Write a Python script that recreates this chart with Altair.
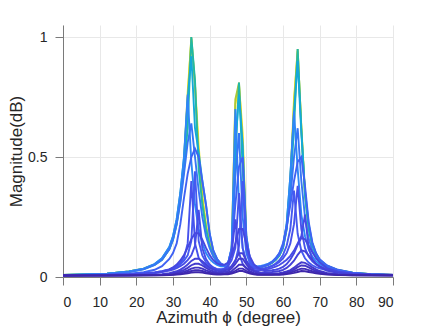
import altair as alt
import pandas as pd

# azimuth grid (degree)
X = [0, 6, 12, 18, 22, 25, 27, 29, 30, 31, 32, 33, 34, 35, 36, 37, 38, 39, 40, 41, 42, 43,
     44, 45, 46, 47, 48, 49, 50, 51, 52, 53, 54,
     55, 56, 57, 58, 59, 60, 61, 62, 63, 64, 65, 66, 67, 68, 69, 70, 72, 75, 79, 84, 90]

yellow = [0.009, 0.011, 0.014, 0.023, 0.035, 0.053, 0.075, 0.12, 0.165, 0.23, 0.34, 0.48, 0.77, 0.99, 0.80, 0.55, 0.34, 0.22, 0.14, 0.092, 0.066, 0.052,
          0.047, 0.052, 0.105, 0.72, 0.80, 0.6, 0.16, 0.068, 0.048, 0.042, 0.042,
          0.046, 0.052, 0.06, 0.073, 0.092, 0.125, 0.21, 0.4, 0.74, 0.94, 0.63, 0.35, 0.21, 0.135, 0.095, 0.07, 0.046, 0.029, 0.018, 0.012, 0.009]
green = [0.009, 0.011, 0.014, 0.023, 0.034, 0.052, 0.074, 0.118, 0.16, 0.225, 0.33, 0.47, 0.74, 1.0, 0.80, 0.5, 0.32, 0.21, 0.135, 0.09, 0.065, 0.051,
         0.046, 0.051, 0.1, 0.74, 0.81, 0.55, 0.15, 0.065, 0.047, 0.041, 0.042,
         0.046, 0.052, 0.06, 0.072, 0.09, 0.122, 0.205, 0.39, 0.72, 0.95, 0.62, 0.345, 0.205, 0.133, 0.094, 0.07, 0.046, 0.028, 0.017, 0.012, 0.009]
teal = [0.009, 0.011, 0.014, 0.022, 0.033, 0.05, 0.072, 0.115, 0.155, 0.22, 0.32, 0.45, 0.62, 1.0, 0.82, 0.45, 0.3, 0.2, 0.13, 0.088, 0.064, 0.05,
        0.045, 0.05, 0.1, 0.5, 0.81, 0.45, 0.13, 0.062, 0.045, 0.04, 0.041,
        0.045, 0.051, 0.059, 0.071, 0.089, 0.12, 0.2, 0.37, 0.62, 0.95, 0.62, 0.34, 0.2, 0.13, 0.092, 0.069, 0.045, 0.028, 0.017, 0.012, 0.009]
cyan = [0.009, 0.011, 0.014, 0.023, 0.035, 0.054, 0.078, 0.125, 0.17, 0.24, 0.35, 0.5, 0.74, 0.92, 0.62, 0.52, 0.40, 0.3, 0.18, 0.11, 0.075, 0.056,
        0.048, 0.055, 0.12, 0.55, 0.76, 0.55, 0.17, 0.07, 0.048, 0.043, 0.043,
        0.047, 0.053, 0.062, 0.076, 0.096, 0.13, 0.22, 0.42, 0.68, 0.9, 0.6, 0.36, 0.22, 0.14, 0.098, 0.072, 0.047, 0.029, 0.018, 0.012, 0.009]
blue76 = [0.009, 0.011, 0.014, 0.023, 0.035, 0.054, 0.078, 0.125, 0.17, 0.24, 0.35, 0.5, 0.76, 0.48, 0.3, 0.2, 0.14, 0.1, 0.075, 0.06, 0.05, 0.045,
          0.044, 0.055, 0.12, 0.70, 0.3, 0.12, 0.06, 0.045, 0.042, 0.043, 0.046,
          0.05, 0.056, 0.064, 0.078, 0.098, 0.13, 0.22, 0.42, 0.69, 0.45, 0.26, 0.17, 0.115, 0.085, 0.066, 0.053, 0.037, 0.024, 0.015, 0.011, 0.008]
blue64 = [0.008, 0.01, 0.013, 0.021, 0.032, 0.05, 0.072, 0.115, 0.155, 0.22, 0.31, 0.43, 0.56, 0.64, 0.5, 0.36, 0.25, 0.17, 0.12, 0.085, 0.063, 0.05,
          0.045, 0.05, 0.1, 0.42, 0.6, 0.25, 0.1, 0.055, 0.043, 0.041, 0.043,
          0.047, 0.053, 0.061, 0.074, 0.093, 0.125, 0.2, 0.33, 0.5, 0.62, 0.4, 0.25, 0.16, 0.11, 0.08, 0.062, 0.041, 0.026, 0.016, 0.011, 0.008]
blue53 = [0.007, 0.008, 0.01, 0.014, 0.02, 0.03, 0.045, 0.075, 0.1, 0.14, 0.22, 0.33, 0.43, 0.5, 0.535, 0.5, 0.40, 0.30, 0.18, 0.11, 0.076, 0.057,
          0.049, 0.056, 0.12, 0.3, 0.46, 0.5, 0.17, 0.07, 0.048, 0.043, 0.043,
          0.047, 0.052, 0.062, 0.078, 0.1, 0.14, 0.21, 0.3, 0.4, 0.48, 0.5, 0.38, 0.23, 0.145, 0.1, 0.074, 0.048, 0.03, 0.018, 0.012, 0.009]
sharp44 = [0.007, 0.008, 0.009, 0.012, 0.015, 0.019, 0.024, 0.031, 0.036, 0.043, 0.053, 0.068, 0.09, 0.15, 0.44, 0.15, 0.09, 0.062, 0.047, 0.038, 0.033, 0.031,
           0.032, 0.036, 0.045, 0.065, 0.13, 0.40, 0.12, 0.06, 0.042, 0.036, 0.035,
           0.037, 0.041, 0.047, 0.056, 0.07, 0.092, 0.13, 0.2, 0.36, 0.18, 0.11, 0.078, 0.06, 0.049, 0.041, 0.036, 0.028, 0.02, 0.014, 0.01, 0.008]
sharp40 = [0.007, 0.008, 0.009, 0.012, 0.015, 0.019, 0.024, 0.032, 0.038, 0.047, 0.06, 0.08, 0.14, 0.40, 0.14, 0.08, 0.058, 0.045, 0.037, 0.032, 0.03, 0.031,
           0.035, 0.045, 0.07, 0.12, 0.35, 0.12, 0.065, 0.045, 0.037, 0.034, 0.034,
           0.036, 0.04, 0.045, 0.052, 0.062, 0.078, 0.1, 0.14, 0.22, 0.38, 0.2, 0.12, 0.085, 0.065, 0.052, 0.044, 0.032, 0.022, 0.015, 0.011, 0.009]
sharp28 = [0.007, 0.008, 0.009, 0.011, 0.014, 0.017, 0.021, 0.027, 0.031, 0.037, 0.045, 0.055, 0.07, 0.09, 0.13, 0.28, 0.12, 0.075, 0.052, 0.04, 0.033, 0.03,
           0.032, 0.045, 0.1, 0.24, 0.1, 0.055, 0.038, 0.031, 0.028, 0.028, 0.029,
           0.031, 0.034, 0.038, 0.043, 0.05, 0.06, 0.072, 0.088, 0.11, 0.14, 0.17, 0.26, 0.12, 0.075, 0.055, 0.044, 0.03, 0.02, 0.014, 0.01, 0.008]
dome18 = [0.007, 0.008, 0.009, 0.010, 0.013, 0.016, 0.022, 0.032, 0.040, 0.052, 0.069, 0.092, 0.122, 0.158, 0.182, 0.182, 0.156, 0.121, 0.091, 0.070, 0.057, 0.051,
          0.051, 0.060, 0.089, 0.139, 0.200, 0.200, 0.137, 0.085, 0.054, 0.040, 0.032,
          0.028, 0.027, 0.028, 0.031, 0.035, 0.042, 0.054, 0.073, 0.099, 0.134, 0.162, 0.157, 0.131, 0.103, 0.079, 0.061, 0.037, 0.022, 0.014, 0.011, 0.010]
dome08 = [0.006, 0.007, 0.007, 0.008, 0.009, 0.010, 0.012, 0.016, 0.020, 0.024, 0.031, 0.040, 0.052, 0.067, 0.076, 0.076, 0.066, 0.052, 0.040, 0.032, 0.026, 0.024,
          0.028, 0.032, 0.046, 0.070, 0.099, 0.099, 0.069, 0.044, 0.029, 0.022, 0.018,
          0.021, 0.020, 0.021, 0.023, 0.025, 0.030, 0.038, 0.051, 0.068, 0.092, 0.111, 0.107, 0.090, 0.071, 0.055, 0.043, 0.027, 0.017, 0.011, 0.009, 0.009]
dome055 = [0.006, 0.007, 0.007, 0.007, 0.008, 0.009, 0.010, 0.013, 0.016, 0.019, 0.024, 0.030, 0.038, 0.049, 0.055, 0.055, 0.048, 0.038, 0.030, 0.024, 0.020, 0.019,
           0.022, 0.025, 0.036, 0.054, 0.076, 0.076, 0.053, 0.034, 0.023, 0.018, 0.015,
           0.014, 0.013, 0.014, 0.015, 0.016, 0.019, 0.023, 0.029, 0.039, 0.051, 0.061, 0.059, 0.050, 0.040, 0.032, 0.025, 0.017, 0.012, 0.009, 0.008, 0.007]
dome04 = [0.006, 0.006, 0.007, 0.007, 0.007, 0.008, 0.009, 0.011, 0.012, 0.015, 0.018, 0.022, 0.028, 0.035, 0.039, 0.039, 0.035, 0.028, 0.022, 0.018, 0.016, 0.015,
          0.016, 0.018, 0.025, 0.037, 0.051, 0.051, 0.036, 0.024, 0.017, 0.014, 0.012,
          0.012, 0.012, 0.012, 0.013, 0.014, 0.016, 0.019, 0.024, 0.031, 0.041, 0.048, 0.047, 0.040, 0.032, 0.026, 0.021, 0.014, 0.010, 0.008, 0.007, 0.007]
dome03 = [0.006, 0.006, 0.006, 0.007, 0.007, 0.007, 0.008, 0.009, 0.010, 0.012, 0.014, 0.017, 0.021, 0.025, 0.028, 0.028, 0.025, 0.020, 0.017, 0.014, 0.012, 0.012,
          0.013, 0.014, 0.018, 0.026, 0.035, 0.035, 0.026, 0.018, 0.013, 0.011, 0.010,
          0.010, 0.010, 0.010, 0.011, 0.011, 0.013, 0.015, 0.018, 0.023, 0.030, 0.035, 0.034, 0.029, 0.024, 0.020, 0.016, 0.012, 0.009, 0.007, 0.007, 0.007]
dome02 = [0.006, 0.006, 0.006, 0.006, 0.007, 0.007, 0.007, 0.008, 0.009, 0.010, 0.011, 0.013, 0.015, 0.018, 0.020, 0.020, 0.018, 0.015, 0.013, 0.011, 0.010, 0.010,
          0.011, 0.011, 0.014, 0.019, 0.025, 0.025, 0.019, 0.014, 0.011, 0.009, 0.009,
          0.009, 0.009, 0.009, 0.009, 0.009, 0.010, 0.012, 0.014, 0.017, 0.021, 0.025, 0.024, 0.021, 0.018, 0.015, 0.013, 0.010, 0.008, 0.007, 0.007, 0.006]

# drawing order: first is at the bottom
series = [
    ("yellow", "#F5E61C", yellow),
    ("green", "#ABC739", green),
    ("teal", "#22B8A6", teal),
    ("cyan", "#14A8D9", cyan),
    ("blue76", "#2E87F7", blue76),
    ("blue64", "#3676F5", blue64),
    ("blue53", "#3F62F3", blue53),
    ("sharp44", "#4559F0", sharp44),
    ("sharp40", "#4652EC", sharp40),
    ("sharp28", "#464CE6", sharp28),
    ("dome18", "#4547E0", dome18),
    ("dome08", "#4441D8", dome08),
    ("dome055", "#433ACD", dome055),
    ("dome04", "#4133C2", dome04),
    ("dome03", "#402DB7", dome03),
    ("dome02", "#3E27AB", dome02),
]

rows = []
names = []
colors = []
for i, (nm, col, vals) in enumerate(series):
    key = f"s{i:02d}"
    names.append(key)
    colors.append(col)
    for xv, yv in zip(X, vals):
        rows.append({"series": key, "az": xv, "mag": yv})
df = pd.DataFrame(rows)

font = "Liberation Sans"

chart = alt.Chart(df).mark_line(strokeWidth=1.9, clip=True).encode(
    x=alt.X("az:Q",
            scale=alt.Scale(domain=[0, 90], nice=False, zero=False),
            axis=alt.Axis(values=list(range(0, 91, 10)), title="Azimuth ϕ (degree)",
                          titleY=40, titleBaseline="middle", labelPadding=10)),
    y=alt.Y("mag:Q",
            scale=alt.Scale(domain=[0, 1.05], nice=False),
            axis=alt.Axis(values=[0, 0.5, 1], format="~g", title="Magnitude(dB)",
                          titleX=-47, titleY=126, titleAngle=-90,
                          titleAlign="center", titleBaseline="middle", labelPadding=8)),
    color=alt.Color("series:N", scale=alt.Scale(domain=names, range=colors), legend=None),
).properties(
    width=330,
    height=252,
    autosize=alt.AutoSizeParams(type="none"),
    padding={"left": 55, "top": 17, "right": 35, "bottom": 50},
).configure_view(
    stroke=None
).configure_axis(
    labelFont=font,
    titleFont=font,
    labelFontSize=14,
    titleFontSize=17,
    titleFontWeight="normal",
    labelColor="#262626",
    titleColor="#262626",
    domainColor="#7a7a7a",
    tickColor="#7a7a7a",
    tickSize=8,
    gridColor="#e8e8e8",
    gridWidth=1,
)

chart.save("out.html", embed_options={"renderer": "svg", "actions": False})
